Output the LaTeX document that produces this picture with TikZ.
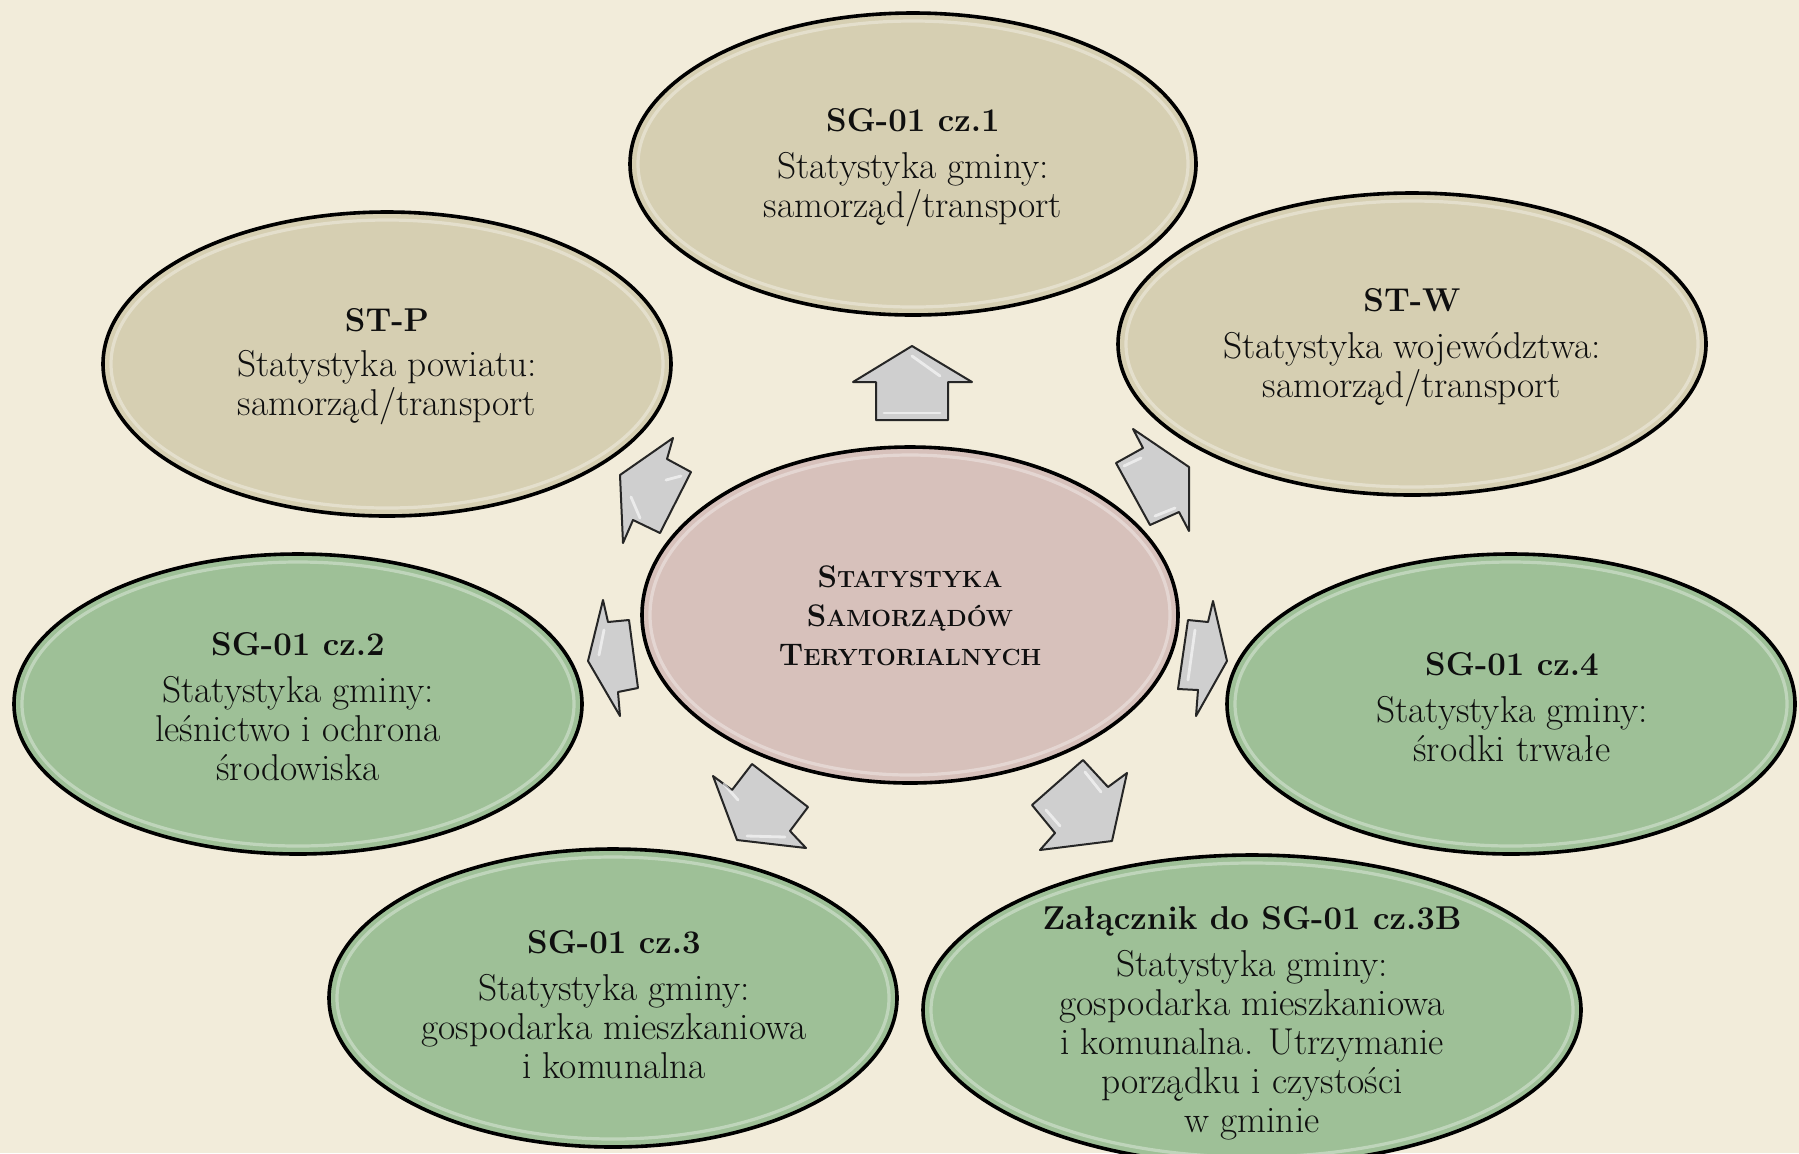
\documentclass[tikz,border=0pt]{standalone}
\usepackage{fontspec}
\usetikzlibrary{shapes.geometric}
\definecolor{bg}{HTML}{F2ECDA}
\definecolor{tanc}{HTML}{D6CFB2}
\definecolor{pinkc}{HTML}{D7C1BB}
\definecolor{greenc}{HTML}{9EC097}
\definecolor{arrowc}{HTML}{CFCFCF}
\newcommand\mysc[2]{{\fontsize{15.6}{19.5}\selectfont #1}{\fontsize{11.7}{19.5}\selectfont #2}}
\newcommand\ttl[1]{{\fontsize{16.5}{19.5}\selectfont\bfseries #1}}
\tikzset{
  bubble/.style={ellipse, draw=black, line width=1.8pt, inner sep=0pt},
  rim/.style={white, opacity=0.35, line width=1.6pt},
  txt/.style={align=center, font=\fontsize{18.7}{19.5}\selectfont, text=black!94},
  blockarrow/.style={fill=arrowc, draw=black!85, line width=1pt, line join=round},
}
\begin{document}
\begin{tikzpicture}[x=0.5pt,y=-0.5pt]
\useasboundingbox (0,0) rectangle (1799,1153);
\fill[bg] (0,0) rectangle (1799,1153);

% ellipses
\node[bubble, fill=tanc,   minimum width=283pt, minimum height=151pt] (cz1) at (913,164) {};
\node[bubble, fill=tanc,   minimum width=284pt, minimum height=152pt] (stp) at (387,364) {};
\node[bubble, fill=tanc,   minimum width=294pt, minimum height=151pt] (stw) at (1412,344) {};
\node[bubble, fill=pinkc,  minimum width=268pt, minimum height=168pt] (sts) at (910,615) {};
\node[bubble, fill=greenc, minimum width=284pt, minimum height=150pt] (cz2) at (298,704) {};
\node[bubble, fill=greenc, minimum width=284pt, minimum height=150pt] (cz4) at (1511,704) {};
\node[bubble, fill=greenc, minimum width=284pt, minimum height=149pt] (cz3) at (613,998) {};
\node[bubble, fill=greenc, minimum width=329pt, minimum height=155pt] (zal) at (1252,1010) {};

% inner rim highlights
\draw[rim] (cz1.center) ellipse [x radius=275, y radius=143];
\draw[rim] (stp.center) ellipse [x radius=276, y radius=144];
\draw[rim] (stw.center) ellipse [x radius=286, y radius=143];
\draw[rim] (sts.center) ellipse [x radius=260, y radius=160];
\draw[rim] (cz2.center) ellipse [x radius=276, y radius=142];
\draw[rim] (cz4.center) ellipse [x radius=276, y radius=142];
\draw[rim] (cz3.center) ellipse [x radius=276, y radius=141];
\draw[rim] (zal.center) ellipse [x radius=321, y radius=147];

% texts
\node[txt] (tcz1) at (913,168) {\ttl{SG-01 cz.1}\\[4pt] Statystyka gminy:\\ samorząd/transport};
\node[txt] (tstp) at (387,367) {\ttl{ST-P}\\[3pt] Statystyka powiatu:\\ samorząd/transport};
\node[txt] (tstw) at (1412,348) {\ttl{ST-W}\\[4pt] Statystyka województwa:\\ samorząd/transport};
\node[txt, font=\fontsize{15.6}{19.5}\selectfont\bfseries] (tsts) at (910,616) {\mysc{S}{TATYSTYKA}\\ \mysc{S}{AMORZĄDÓW}\\ \mysc{T}{ERYTORIALNYCH}};
\node[txt] (tcz2) at (298,707) {\ttl{SG-01 cz.2}\\[4pt] Statystyka gminy:\\ leśnictwo i ochrona\\ środowiska};
\node[txt] (tcz4) at (1512,707) {\ttl{SG-01 cz.4}\\[4pt] Statystyka gminy:\\ środki trwałe};
\node[txt] (tcz3) at (614,1005) {\ttl{SG-01 cz.3}\\[4pt] Statystyka gminy:\\ gospodarka mieszkaniowa\\ i komunalna};
\node[txt] (tzal) at (1252,1023) {\ttl{Załącznik do SG-01 cz.3B}\\[4pt] Statystyka gminy:\\ gospodarka mieszkaniowa\\ i komunalna. Utrzymanie\\ porządku i czystości\\ w gminie};

% block arrows
\draw[blockarrow] (912,346) -- (972,382) -- (948,382) -- (948,420) -- (876,420) -- (876,382) -- (853,382) -- cycle;
\draw[blockarrow] (620,475) -- (673,438) -- (667,459) -- (691,472) -- (660,533) -- (633,520) -- (623,543) -- cycle;
\draw[blockarrow] (1189,467) -- (1189,531) -- (1179,512) -- (1150,525) -- (1116,463) -- (1143,448) -- (1133,429) -- cycle;
\draw[blockarrow] (588,661) -- (603,600) -- (608,622) -- (629,620) -- (638,688) -- (618,692) -- (620,716) -- cycle;
\draw[blockarrow] (1227,661) -- (1213,601) -- (1208,622) -- (1188,620) -- (1178,689) -- (1198,690) -- (1196,716) -- cycle;
\draw[blockarrow] (737,840) -- (713,776) -- (732,790) -- (752,764) -- (808,807) -- (790,831) -- (806,848) -- cycle;
\draw[blockarrow] (1112,841) -- (1127,773) -- (1108,787) -- (1083,760) -- (1032,805) -- (1055,833) -- (1040,850) -- cycle;

% bevel highlights on arrows
\begin{scope}[white, opacity=0.6, line width=1.4pt, line cap=round]
\draw (912,356) -- (940,376);
\draw (884,413) -- (940,413);
\draw (631,497) -- (640,518);
\draw (666,480) -- (681,476);
\draw (1124,466) -- (1141,458);
\draw (1155,516) -- (1175,508);
\draw (604,630) -- (599,655);
\draw (1195,630) -- (1188,680);
\draw (724,784) -- (738,800);
\draw (747,836) -- (785,837);
\draw (1085,772) -- (1101,792);
\draw (1046,810) -- (1060,826);
\end{scope}
\end{tikzpicture}
\end{document}
